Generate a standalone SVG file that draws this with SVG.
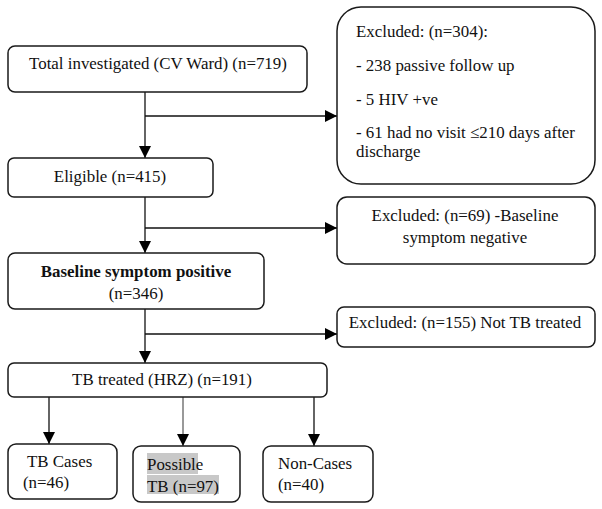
<svg xmlns="http://www.w3.org/2000/svg" width="602" height="509" viewBox="0 0 602 509">
<defs>
<style>
.box{fill:#fff;stroke:#1a1a1a;stroke-width:1.5}
.t{font-family:"Liberation Serif","Times New Roman",serif;font-size:16.9px;fill:#111}
.c{text-anchor:middle}
.b{font-weight:bold}
.ln{stroke:#111;stroke-width:1.3;fill:none}
</style>
<marker id="ahb" viewBox="0 0 10 10" refX="10" refY="5" markerWidth="12" markerHeight="12" markerUnits="userSpaceOnUse" orient="auto">
<path d="M0,0 L10,5 L0,10 Z" fill="#000"/>
</marker>
</defs>
<rect width="602" height="509" fill="#fff"/>

<g id="connectors">
<line class="ln" x1="145" y1="92" x2="145" y2="158" marker-end="url(#ahb)"/>
<line class="ln" x1="145" y1="116" x2="337" y2="116" marker-end="url(#ahb)"/>
<line class="ln" x1="145" y1="197" x2="145" y2="253" marker-end="url(#ahb)"/>
<line class="ln" x1="145" y1="228" x2="337" y2="228" marker-end="url(#ahb)"/>
<line class="ln" x1="145" y1="309" x2="145" y2="363" marker-end="url(#ahb)"/>
<line class="ln" x1="145" y1="334" x2="337" y2="334" marker-end="url(#ahb)"/>
<line class="ln" x1="49" y1="397" x2="49" y2="444" stroke-width="1.8" marker-end="url(#ahb)"/>
<line x1="183" y1="397" x2="183" y2="446" stroke="#555" stroke-width="1.2" marker-end="url(#ahb)"/>
<line class="ln" x1="314" y1="397" x2="314" y2="446" marker-end="url(#ahb)"/>
</g>

<g id="total">
<rect class="box" x="8" y="46" width="299" height="46" rx="7"/>
<text class="t c" x="158" y="69">Total investigated (CV Ward) (n=719)</text>
</g>

<g id="excluded304">
<rect class="box" x="337" y="7" width="258" height="177" rx="24"/>
<text class="t" x="356" y="37">Excluded: (n=304):</text>
<text class="t" x="356" y="71">- 238 passive follow up</text>
<text class="t" x="356" y="105">- 5 HIV +ve</text>
<text class="t" x="356" y="138">- 61 had no visit ≤210 days after</text>
<text class="t" x="356" y="157">discharge</text>
</g>

<g id="eligible">
<rect class="box" x="8" y="158" width="205" height="39" rx="6"/>
<text class="t c" x="110" y="182">Eligible (n=415)</text>
</g>

<g id="excluded69">
<rect class="box" x="337" y="197" width="258" height="67" rx="10"/>
<text class="t c" x="465" y="221">Excluded: (n=69) -Baseline</text>
<text class="t c" x="465" y="243">symptom negative</text>
</g>

<g id="baseline">
<rect class="box" x="8" y="253" width="256" height="56" rx="7"/>
<text class="t c b" x="136" y="277">Baseline symptom positive</text>
<text class="t c" x="136" y="299">(n=346)</text>
</g>

<g id="excluded155">
<rect class="box" x="337" y="307" width="258" height="40" rx="7"/>
<text class="t c" x="465" y="328">Excluded: (n=155) Not TB treated</text>
</g>

<g id="tbtreated">
<rect class="box" x="8" y="363" width="319" height="34" rx="6"/>
<text class="t c" x="162" y="385">TB treated (HRZ) (n=191)</text>
</g>

<g id="tbcases">
<rect class="box" x="8" y="444" width="109" height="55" rx="8"/>
<text class="t" x="27" y="467">TB Cases</text>
<text class="t" x="23" y="488">(n=46)</text>
</g>

<g id="possible">
<rect class="box" x="133" y="446" width="107" height="56" rx="8"/>
<rect x="147" y="453" width="51" height="21" fill="#c8c8c8"/>
<rect x="147" y="475" width="72" height="19" fill="#c8c8c8"/>
<text class="t" x="147" y="470">Possible</text>
<text class="t" x="147" y="492">TB (n=97)</text>
</g>

<g id="noncases">
<rect class="box" x="263" y="446" width="110" height="56" rx="8"/>
<text class="t" x="278" y="469">Non-Cases</text>
<text class="t" x="278" y="490">(n=40)</text>
</g>
</svg>
